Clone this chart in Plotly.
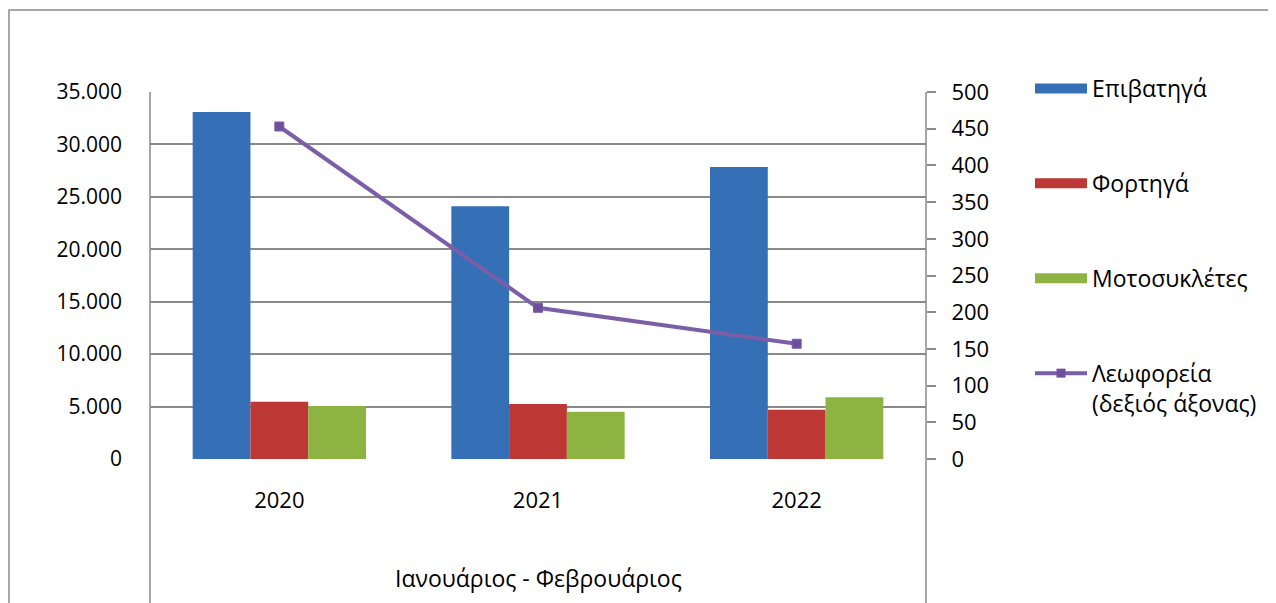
import plotly.graph_objects as go

years = ["2020", "2021", "2022"]
epivatiga = [33100, 24100, 27850]
fortiga = [5450, 5250, 4700]
motosykletes = [5050, 4500, 5900]
leoforeia = [453, 206, 157]

names = ["Επιβατηγά", "Φορτηγά", "Μοτοσυκλέτες", "Λεωφορεία<br>(δεξιός άξονας)"]
colors = ["#3570b6", "#bd3735", "#8db343", "#7b5ea7"]
left_ticks = [0, 5000, 10000, 15000, 20000, 25000, 30000, 35000]
right_ticks = list(range(0, 501, 50))
axis_title = "Ιανουάριος - Φεβρουάριος"

FONT = "Open Sans"
OFF = 8  # page body margin
W, H = 1276 - OFF, 603 - OFF
# plot area in screen pixels
L, R, T, B = 150, 926, 92, 459
pw, ph = R - L, B - T

def px(x):
    return (x - L) / pw

def py(y):
    return (B - y) / ph

fig = go.Figure()
for vals, nm, col in zip([epivatiga, fortiga, motosykletes], names[:3], colors[:3]):
    fig.add_trace(go.Bar(x=years, y=vals, name=nm, marker=dict(color=col, line=dict(width=0)),
                         showlegend=False, yaxis="y"))

fig.add_trace(go.Scatter(x=years, y=leoforeia, name=names[3], yaxis="y2", mode="lines+markers",
                         line=dict(color=colors[3], width=4),
                         marker=dict(symbol="square", size=9, color="#6f4f9b",
                                     line=dict(color=colors[3], width=1)),
                         showlegend=False))

# legend entries
for i, (nm, col) in enumerate(zip(names, colors)):
    if i < 3:
        fig.add_trace(go.Scatter(x=[None], y=[None], name=nm, mode="lines",
                                 line=dict(color=col, width=15), legendgroup=str(i)))
    else:
        fig.add_trace(go.Scatter(x=[None], y=[None], name=nm, mode="lines+markers",
                                 line=dict(color=col, width=4),
                                 marker=dict(symbol="square", size=9, color="#6f4f9b"),
                                 legendgroup=str(i)))

fig.update_layout(
    width=W, height=H,
    margin=dict(l=L - OFF, r=W - (R - OFF), t=T - OFF, b=H - (B - OFF), autoexpand=False),
    paper_bgcolor="white", plot_bgcolor="white",
    separators=",.",
    font=dict(family=FONT, size=20, color="#000000"),
    barmode="group", bargap=0.33, bargroupgap=0,
    showlegend=True,
    legend=dict(x=px(1030), y=py(67), xanchor="left", yanchor="top",
                font=dict(family=FONT, size=23, color="#000000"),
                itemwidth=52, tracegroupgap=62, valign="top", maxheight=560,
                bgcolor="rgba(0,0,0,0)", traceorder="grouped"),
    xaxis=dict(type="category", showgrid=False, showline=False, zeroline=False,
               ticks="", tickfont=dict(size=22), ticklabelstandoff=26),
    yaxis=dict(range=[0, 35000], tickvals=left_ticks, tickformat=",d",
               showgrid=True, gridcolor="#8a8a8a", gridwidth=1.5,
               zeroline=False, showline=False, ticks="",
               tickfont=dict(size=21), ticklabelstandoff=27),
    yaxis2=dict(range=[0, 500], tickvals=right_ticks, overlaying="y", side="right",
                showgrid=False, zeroline=False, showline=False,
                ticks="outside", ticklen=9, tickwidth=1.5, tickcolor="#8a8a8a",
                tickfont=dict(size=22), ticklabelstandoff=11),
    annotations=[dict(text=axis_title, x=0.5, y=py(578), xref="paper", yref="paper",
                      showarrow=False, font=dict(family=FONT, size=23, color="#000000"),
                      xanchor="center", yanchor="middle")],
    shapes=[
        dict(type="rect", xref="paper", yref="paper", x0=px(9), x1=px(1295), y0=py(625), y1=py(10),
             line=dict(color="#8c8c8c", width=1.5), layer="below"),
        dict(type="line", xref="paper", yref="paper", x0=0, x1=0, y0=1, y1=py(610),
             line=dict(color="#8a8a8a", width=1.5)),
        dict(type="line", xref="paper", yref="paper", x0=1, x1=1, y0=1, y1=py(610),
             line=dict(color="#8a8a8a", width=1.5)),
    ],
)

fig.write_html("out.html")
